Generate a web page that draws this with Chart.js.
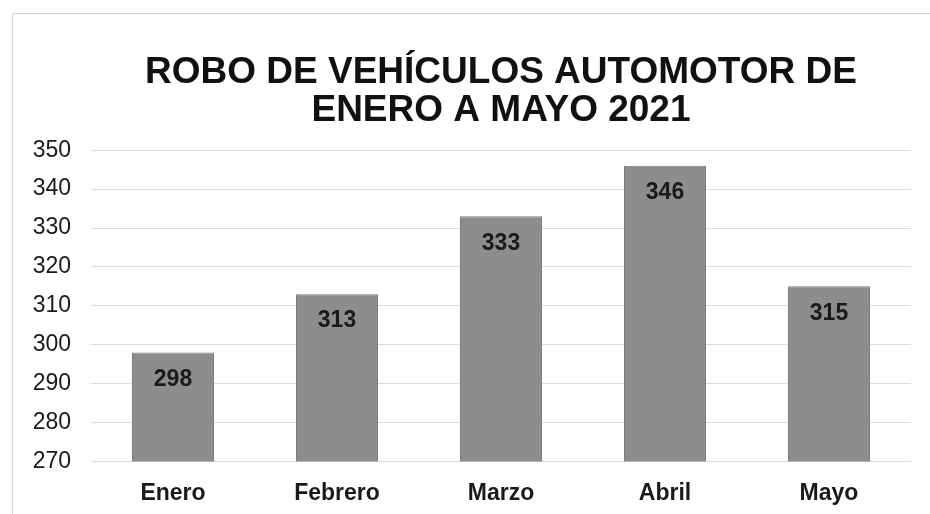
<!DOCTYPE html>
<html>
<head>
<meta charset="utf-8">
<script src="https://cdn.jsdelivr.net/npm/chart.js@4"></script>
<style>
  html, body { margin: 0; padding: 0; background: #fff; overflow: hidden; }
  #frame {
    position: absolute; left: 12px; top: 13px;
    width: 930px; height: 523px;
    border-left: 1px solid #d4d4d4; border-top: 1px solid #d4d4d4;
  }
</style>
</head>
<body>
<div id="frame"><canvas id="canvas"></canvas></div>
<script>
const meses = ['Enero', 'Febrero', 'Marzo', 'Abril', 'Mayo'];
const robos = [298, 313, 333, 346, 315];
const titulo = ['ROBO DE VEHÍCULOS AUTOMOTOR DE', 'ENERO A MAYO 2021'];
const ejeMin = 270;
const ejeMax = 350;
const paso = 10;

// etiquetas de valor dentro de cada barra
const etiquetas = {
    id: 'etiquetas',
    afterDatasetsDraw(chart) {
        const ctx = chart.ctx;
        const meta = chart.getDatasetMeta(0);
        ctx.save();
        ctx.font = 'bold 23px "Liberation Sans", Arial, sans-serif';
        ctx.fillStyle = '#1a1a1a';
        ctx.textAlign = 'center';
        ctx.textBaseline = 'middle';
        meta.data.forEach((bar, i) => {
            ctx.fillText(robos[i], bar.x, bar.y + 27);
        });
        ctx.restore();
    }
};

Chart.defaults.font.family = '"Liberation Sans", Arial, sans-serif';
Chart.defaults.color = '#1a1a1a';

const ctx = document.getElementById('canvas').getContext('2d');
const myChart = new Chart(ctx, {
    type: 'bar',
    data: {
        labels: meses,
        datasets: [{
            label: 'Robos',
            data: robos,
            backgroundColor: '#8d8d8d',
            borderColor: '#7c7c7c',
            borderWidth: 1,
            barPercentage: 0.5,
            categoryPercentage: 1.0
        }]
    },
    options: {
        responsive: true,
        maintainAspectRatio: false,
        animation: false,
        layout: {
            padding: { top: 40, right: 32, bottom: 12, left: 0 }
        },
        plugins: {
            legend: { display: false },
            tooltip: { enabled: false },
            title: {
                display: true,
                fullSize: false,
                text: titulo,
                font: { size: 37, weight: 'bold', lineHeight: 1.03 },
                color: '#111',
                padding: { top: 0, bottom: 20 }
            }
        },
        scales: {
            x: {
                grid: { display: false, drawTicks: false },
                border: { display: false },
                ticks: {
                    font: { size: 23, weight: 'bold' },
                    padding: 18
                }
            },
            y: {
                min: ejeMin,
                max: ejeMax,
                afterFit(scale) { scale.width = 78; },
                grid: { color: '#dcdcdc', lineWidth: 1, drawTicks: false },
                border: { display: false },
                ticks: {
                    stepSize: paso,
                    font: { size: 23 },
                    padding: 20
                }
            }
        }
    },
    plugins: [etiquetas]
});
</script>
</body>
</html>
